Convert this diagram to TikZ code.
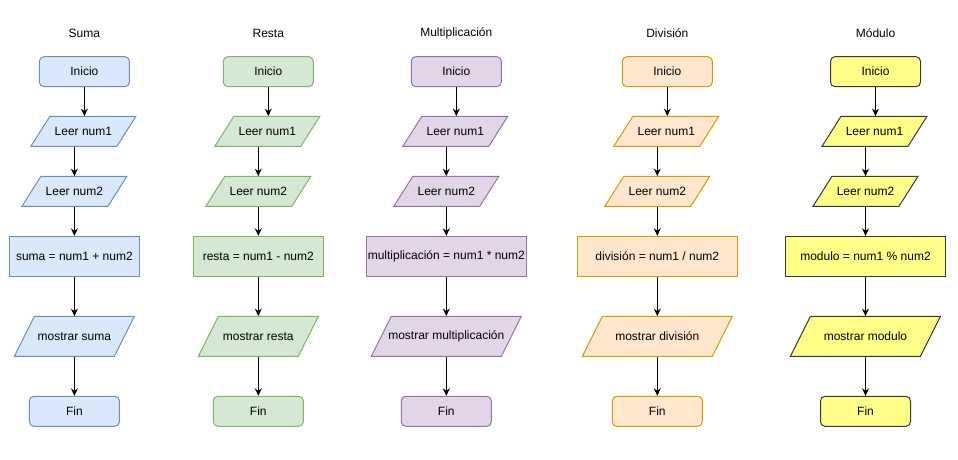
\documentclass[tikz,border=0pt]{standalone}
\usepackage{fontspec}
\setmainfont{Liberation Sans}
\usetikzlibrary{arrows.meta,calc}
\definecolor{bluefill}{HTML}{DAE8FC}\definecolor{blueline}{HTML}{6C8EBF}
\definecolor{greenfill}{HTML}{D5E8D4}\definecolor{greenline}{HTML}{82B366}
\definecolor{purplefill}{HTML}{E1D5E7}\definecolor{purpleline}{HTML}{9673A6}
\definecolor{orangefill}{HTML}{FFE6CC}\definecolor{orangeline}{HTML}{D79B00}
\definecolor{yellowfill}{HTML}{FFFF88}\definecolor{yellowline}{HTML}{36393D}
\tikzset{
 txt/.style={font=\fontsize{12}{14}\selectfont, inner sep=0pt, align=center, text=black},
 term/.style={txt, draw=#1line, fill=#1fill, rounded corners=4.5pt, minimum width=90pt, minimum height=30pt, line width=1pt},
 proc/.style={txt, draw=#1line, fill=#1fill, minimum height=40pt, line width=1pt},
 iofill/.style={draw=#1line, fill=#1fill, line width=1pt, line join=miter},
 flow/.style={line width=1pt, -{Stealth[length=7.5pt,width=7pt,inset=2.5pt]}}
}
\newcommand{\ioshape}[6]{% color, cx, cy, W, H, skew
 \path[iofill=#1] ({#2-#4/2+#6},{#3-#5/2}) -- ({#2+#4/2},{#3-#5/2}) -- ({#2+#4/2-#6},{#3+#5/2}) -- ({#2-#4/2},{#3+#5/2}) -- cycle;}
\newcommand{\flowcol}[8]{% id, c, color, title, proc text, proc width, out text, out width
 \node[txt] (#1t) at ({#2+10},33) {#4};
 \node[term=#3] (#1a) at ({#2+10},71.7) {Inicio};
 \ioshape{#3}{#2+9}{131.3}{105}{30}{19}
 \node[txt, minimum height=30pt] (#1b) at ({#2+9},131.3) {Leer num1};
 \ioshape{#3}{#2}{191.3}{105}{30}{19}
 \node[txt, minimum height=30pt] (#1c) at (#2,191.3) {Leer num2};
 \node[proc=#3, minimum width=#6pt] (#1d) at (#2,256.3) {#5};
 \ioshape{#3}{#2}{336.3}{#8}{40}{20}
 \node[txt, minimum height=40pt] (#1e) at (#2,336.3) {#7};
 \node[term=#3] (#1f) at (#2,411.3) {Fin};
 \draw[flow] (#1a.south) -- (#1a.south |- #1b.north);
 \draw[flow] (#1b.south -| #1c.north) -- (#1c.north);
 \draw[flow] (#1c.south) -- (#1d.north);
 \draw[flow] (#1d.south) -- (#1e.north);
 \draw[flow] (#1e.south) -- (#1f.north);
}
\begin{document}
\begin{tikzpicture}[x=1pt,y=-1pt]
\useasboundingbox (0,0) rectangle (958,460);
\flowcol{s}{74.4}{blue}{Suma}{suma = num1 + num2}{130}{mostrar suma}{120}
\flowcol{r}{258.3}{green}{Resta}{resta = num1 - num2}{130}{mostrar resta}{120}
\flowcol{m}{446.3}{purple}{Multiplicación}{multiplicación = num1 * num2}{160}{mostrar multiplicación}{150}
\flowcol{d}{657.3}{orange}{División}{división = num1 / num2}{160}{mostrar división}{150}
\flowcol{o}{865.5}{yellow}{Módulo}{modulo = num1 \% num2}{160}{mostrar modulo}{150}
\end{tikzpicture}
\end{document}
